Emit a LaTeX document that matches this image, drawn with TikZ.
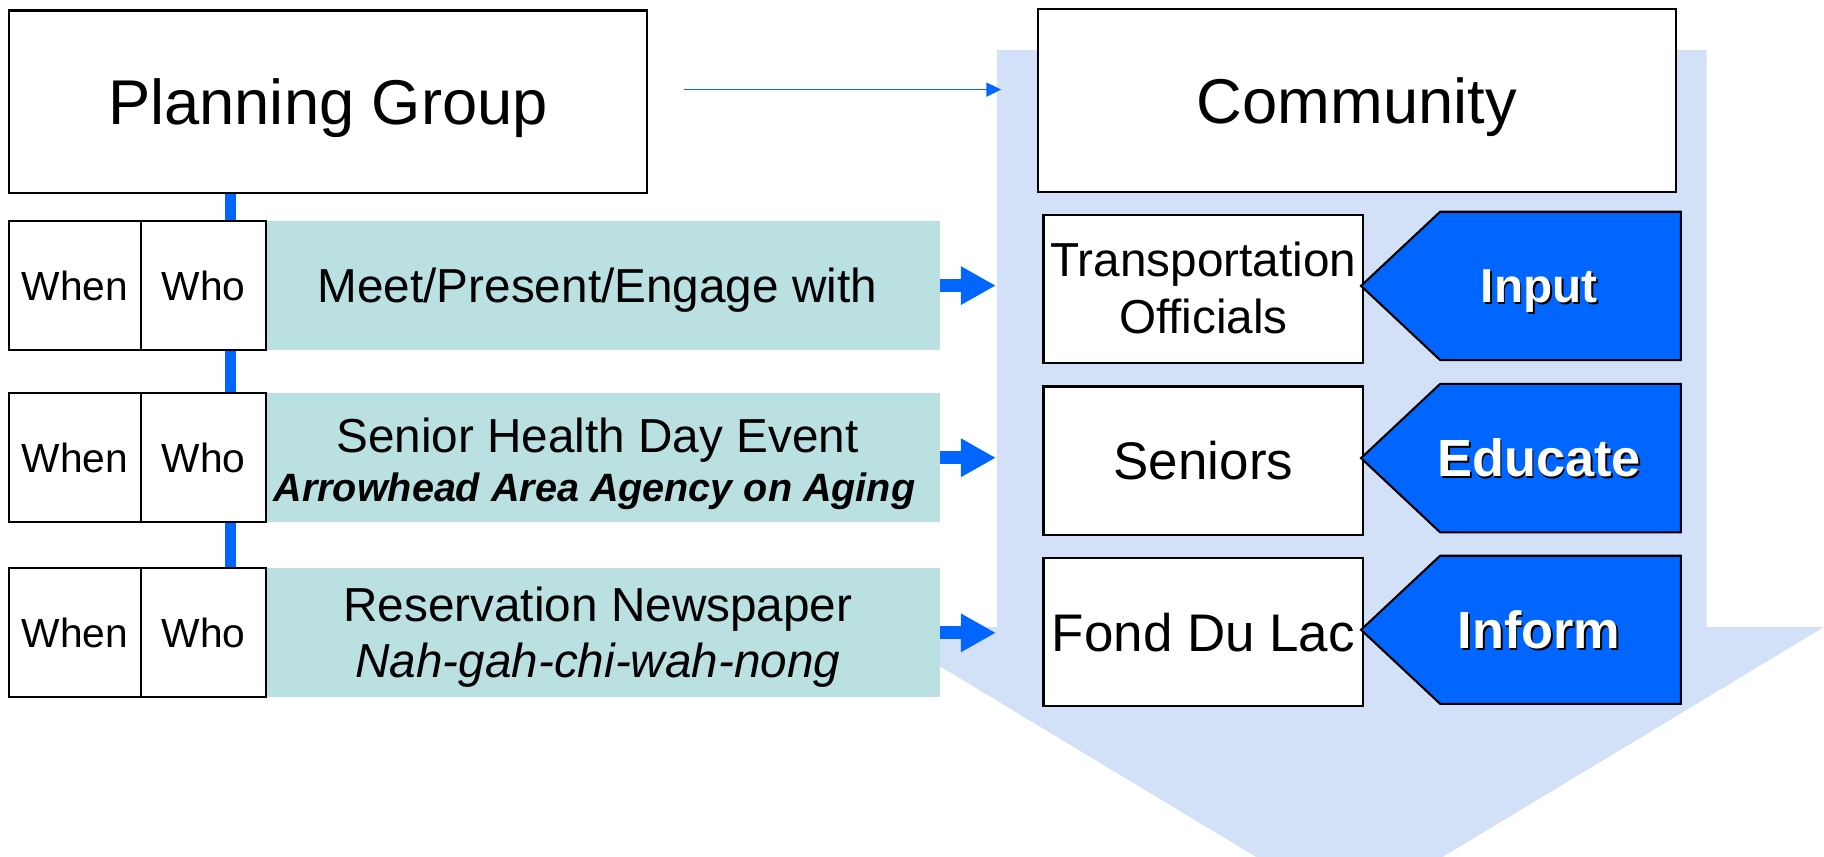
\documentclass[tikz,border=0pt]{standalone}
\usepackage{fontspec}
\setmainfont{Liberation Sans}
\usetikzlibrary{arrows.meta,backgrounds}
\definecolor{pgblue}{RGB}{0,102,255}
\definecolor{rowteal}{RGB}{186,224,226}
\definecolor{flowbg}{RGB}{211,225,248}
\newcommand\shadowed[1]{\rlap{\kern0.8pt\raisebox{-0.8pt}{\color{black}#1}}#1}

\begin{document}
\begin{tikzpicture}[x=0.5pt,y=-0.5pt,
  hdr/.style={draw, line width=0.9pt, fill=white, inner sep=0pt,
    minimum width=274pt, minimum height=78.5pt,
    font=\fontsize{27.2}{32}\selectfont, text height=19.5pt, text depth=0pt},
  cell/.style={draw, line width=0.9pt, fill=white, inner sep=0pt,
    minimum height=55.5pt, font=\fontsize{17.5}{21}\selectfont,
    text height=12.5pt, text depth=0pt},
  act/.style={fill=rowteal, inner sep=0pt, minimum width=294.5pt, minimum height=55.5pt,
    font=\fontsize{20.5}{24}\selectfont, text height=14.7pt, text depth=0pt},
  txt/.style={anchor=base, inner sep=0pt, font=\fontsize{20.5}{24}\selectfont},
  target/.style={draw, line width=0.9pt, fill=white, inner sep=0pt,
    minimum width=137.5pt, minimum height=63.75pt,
    font=\fontsize{22.75}{27}\selectfont, text height=16.3pt, text depth=0pt},
  tag/.style={text=white, inner sep=0pt, font=\bfseries\fontsize{22.5}{27}\selectfont,
    text height=16.1pt, text depth=0pt},
  pent/.style={fill=pgblue, draw=black, line width=0.9pt},
  spine/.style={draw=pgblue, line width=5pt},
  fat/.style={draw=pgblue, line width=5.5pt, -{Triangle[length=15pt,width=15.5pt]}, shorten >=20pt},
  lead/.style={draw=pgblue, line width=0.65pt, -{Triangle[length=6.3pt,width=6pt]},
    shorten <=15.5pt, shorten >=15.5pt}
]

  \useasboundingbox (0,0) rectangle (1568,736);
  \clip (0,0) rectangle (1568,736);

  \fill[flowbg] (857,43) -- (1467,43) -- (1467,539) -- (1568,539) -- (1160,785)
     -- (752,539) -- (857,539) -- cycle;

  \node[hdr] (plan) at (282,87.5) {Planning Group};
  \node[hdr] (comm) at (1166.5,86.5) {Community};


  \node[act] (act1) at (513.5,245.5) {Meet/Present/Engage with};
  \node[cell, minimum width=56.5pt] (when1) at (64.5,245.5) {When};
  \node[cell, minimum width=54pt] (who1) at (175,245.5) {Who};

  \node[act] (act2) at (513.5,393.5) {};
  \node[cell, minimum width=56.5pt] (when2) at (64.5,393.5) {When};
  \node[cell, minimum width=54pt] (who2) at (175,393.5) {Who};
  \node[txt] (hd1) at (513.5,389) {Senior Health Day Event};
  \node[txt, font=\bfseries\itshape\fontsize{17}{20}\selectfont] (hd2) at (511,431) {Arrowhead Area Agency on Aging};

  \node[act] (act3) at (513.5,544) {};
  \node[cell, minimum width=56.5pt] (when3) at (64.5,544) {When};
  \node[cell, minimum width=54pt] (who3) at (175,544) {Who};
  \node[txt] (res1) at (514,534) {Reservation Newspaper};
  \node[txt, font=\itshape\fontsize{20.5}{24}\selectfont] (res2) at (514,582.5) {Nah-gah-chi-wah-nong};

  \coordinate (spx) at (198,0);
  \begin{scope}[on background layer]
    \draw[spine] (plan.south -| spx) -- (when3.north -| spx);
  \end{scope}


  \node[target] (trans) at (1034.5,248.5) {};
  \node[txt] (trans1) at (1034.5,238) {Transportation};
  \node[txt] (trans2) at (1034.5,286.6) {Officials};
  \node[target] (seniors) at (1034.5,396) {Seniors};
  \node[target] (fdl) at (1034.5,543.5) {Fond Du Lac};

  \draw[pent] (1170,245.75) -- (1238,182) -- (1445,182) -- (1445,309.5) -- (1238,309.5) -- cycle;
  \draw[pent] (1170,393.8) -- (1238,330) -- (1445,330) -- (1445,457.6) -- (1238,457.6) -- cycle;
  \draw[pent] (1170,541.4) -- (1238,477.7) -- (1445,477.7) -- (1445,605) -- (1238,605) -- cycle;

  \node[tag, font=\bfseries\fontsize{20.5}{24}\selectfont, text height=14.7pt] (input) at (1323,245.75) {\shadowed{Input}};
  \node[tag] (educate) at (1323,393.8) {\shadowed{Educate}};
  \node[tag] (inform) at (1323,541.4) {\shadowed{Inform}};


  \draw[lead] ([yshift=5.25pt]plan.east) -- ([yshift=5.25pt]plan.east -| comm.west);
  \draw[fat] (act1.east) -- (act1.east -| trans.west);
  \draw[fat] (act2.east) -- (act2.east -| seniors.west);
  \draw[fat] (act3.east) -- (act3.east -| fdl.west);

\end{tikzpicture}
\end{document}
